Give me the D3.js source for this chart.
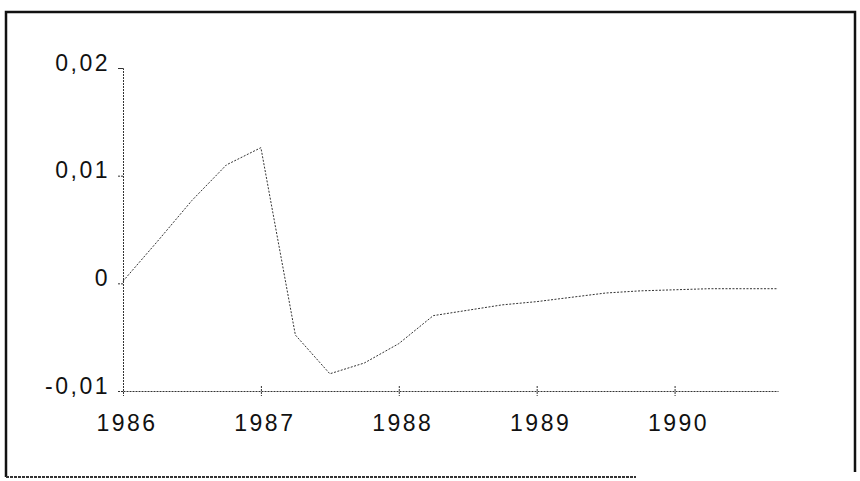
<!DOCTYPE html>
<html>
<head>
<meta charset="utf-8">
<script src="https://cdn.jsdelivr.net/npm/d3@7"></script>
<style>
  body { margin: 0; background: #fff; }
  svg { display: block; }
  .tick text { font-family: "Liberation Sans", Arial, sans-serif; font-size: 23px; fill: #111; letter-spacing: 2.5px; }
</style>
</head>
<body>
<svg id="chart"></svg>
<script>
// quarterly observations, 1986Q1 .. 1990Q4
var periods = [1986, 1986.25, 1986.5, 1986.75, 1987, 1987.25, 1987.5, 1987.75,
  1988, 1988.25, 1988.5, 1988.75, 1989, 1989.25, 1989.5, 1989.75,
  1990, 1990.25, 1990.5, 1990.75];
var values = [0.0002, 0.0039, 0.0077, 0.0110, 0.0126, -0.0048, -0.0084, -0.0074,
  -0.0056, -0.0030, -0.0025, -0.0020, -0.0017, -0.0013, -0.0009, -0.0007,
  -0.0006, -0.0005, -0.0005, -0.0005];
var yTicks = [-0.01, 0, 0.01, 0.02];
var yLabels = ["-0,01", "0", "0,01", "0,02"];
var xTicks = [1986, 1987, 1988, 1989, 1990];

var width = 860, height = 481;
var svg = d3.select("#chart").attr("width", width).attr("height", height);

// frame, bottom edge only partly printed
svg.append("path")
  .attr("d", "M6,477 L6,12 L855,12 L855,472")
  .attr("fill", "none").attr("stroke", "#111").attr("stroke-width", 2.5);
svg.append("line")
  .attr("x1", 6).attr("x2", 636).attr("y1", 477).attr("y2", 477)
  .attr("stroke", "#333").attr("stroke-width", 2).attr("stroke-dasharray", "3 1");

var x = d3.scaleLinear().domain([1986, 1990.75]).range([123, 778]);
var y = d3.scaleLinear().domain([-0.01, 0.02]).range([391, 68]);

var yAxis = svg.append("g")
  .attr("transform", "translate(123,0)")
  .call(d3.axisLeft(y).tickValues(yTicks)
    .tickFormat(function(d, i) { return yLabels[i]; })
    .tickSize(5).tickPadding(8));
yAxis.selectAll("text").attr("dy", "0.1em");

var xAxis = svg.append("g")
  .attr("transform", "translate(0,391)")
  .call(d3.axisBottom(x).tickValues(xTicks).tickFormat(d3.format("d"))
    .tickSizeInner(5).tickSizeOuter(0).tickPadding(19));
xAxis.selectAll(".tick line").attr("y1", -5);
xAxis.selectAll("text").attr("dx", "0.15em");

svg.selectAll(".domain, .tick line")
  .attr("stroke", "#333").attr("stroke-width", 1).attr("stroke-dasharray", "2 1");

var line = d3.line()
  .x(function(d, i) { return x(periods[i]); })
  .y(function(d) { return y(d); });

svg.append("path")
  .datum(values)
  .attr("d", line)
  .attr("fill", "none")
  .attr("stroke", "#333")
  .attr("stroke-width", 1)
  .attr("stroke-dasharray", "2 1.5");
</script>
</body>
</html>
